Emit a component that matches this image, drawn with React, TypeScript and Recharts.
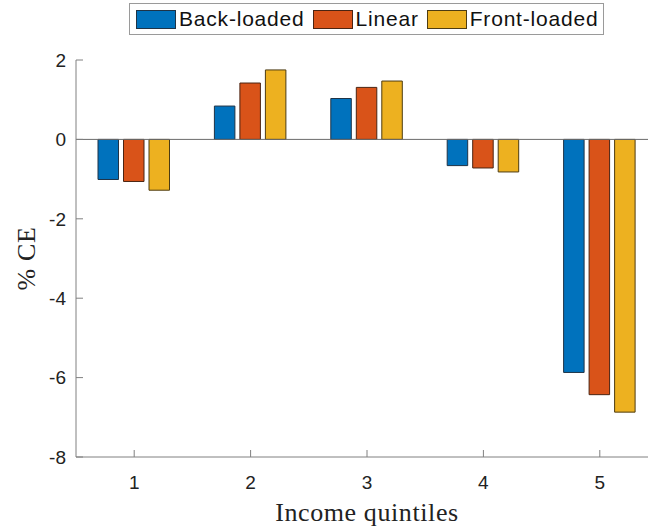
import React from 'react';
import { BarChart, Bar, XAxis, YAxis, ReferenceLine, Legend } from 'recharts';

const quintiles = ['1', '2', '3', '4', '5'];
const backLoaded = [-1.01, 0.84, 1.03, -0.66, -5.87];
const linear = [-1.06, 1.42, 1.31, -0.72, -6.43];
const frontLoaded = [-1.28, 1.75, 1.47, -0.82, -6.87];
const yTicks = [-8, -6, -4, -2, 0, 2];

const series = [
  { key: 'back', name: 'Back-loaded', color: '#0072BD', edge: '#1f3346' },
  { key: 'linear', name: 'Linear', color: '#D95319', edge: '#4a2412' },
  { key: 'front', name: 'Front-loaded', color: '#EDB120', edge: '#4d3c12' }
];

const data = quintiles.map((q, i) => ({
  q,
  back: backLoaded[i],
  linear: linear[i],
  front: frontLoaded[i]
}));

const axisColor = '#808080';
const sans = '"Liberation Sans", Arial, sans-serif';
const serif = '"Liberation Serif", "Times New Roman", serif';

function LegendBox() {
  return (
    <div
      style={{
        display: 'flex',
        alignItems: 'center',
        boxSizing: 'border-box',
        height: 32,
        border: '1px solid #9a9a9a',
        background: '#fff',
        padding: '0 5px 0 6px',
        fontFamily: sans,
        fontSize: 21,
        letterSpacing: 0.8,
        color: '#111',
        whiteSpace: 'nowrap'
      }}
    >
      {series.map((s, i) => (
        <div
          key={s.key}
          style={{ display: 'flex', alignItems: 'center', marginRight: i < series.length - 1 ? 8 : 0 }}
        >
          <span
            style={{
              display: 'inline-block',
              boxSizing: 'border-box',
              width: 40,
              height: 19,
              background: s.color,
              border: `1px solid ${s.edge}`,
              marginRight: 3
            }}
          />
          <span>{s.name}</span>
        </div>
      ))}
    </div>
  );
}

export default function App() {
  return (
    <div
      style={{
        position: 'absolute',
        left: 0,
        top: 0,
        width: 648,
        height: 527,
        overflow: 'hidden',
        background: '#fff'
      }}
    >
      <BarChart
        width={700}
        height={527}
        data={data}
        margin={{ top: 60, right: 42, bottom: 30, left: 16 }}
        barSize={20.5}
        barGap={5}
      >
        <XAxis
          dataKey="q"
          xAxisId="top"
          orientation="top"
          height={0}
          tick={false}
          tickSize={-7}
          stroke={axisColor}
        />
        <XAxis
          dataKey="q"
          height={40}
          tickSize={-7}
          tickMargin={26}
          stroke={axisColor}
          tick={{ fill: '#222', fontSize: 19, fontFamily: sans }}
          label={{
            value: 'Income quintiles',
            position: 'insideBottom',
            offset: -24,
            fill: '#222',
            fontSize: 26,
            fontFamily: serif,
            style: { letterSpacing: 0.6 }
          }}
        />
        <YAxis
          width={60}
          domain={[-8, 2]}
          ticks={yTicks}
          interval={0}
          tickSize={-7}
          tickMargin={17}
          stroke={axisColor}
          tick={{ fill: '#222', fontSize: 19, fontFamily: sans }}
          label={{
            value: '% CE',
            angle: -90,
            position: 'insideLeft',
            offset: 10,
            fill: '#222',
            fontSize: 26,
            fontFamily: serif,
            style: { textAnchor: 'middle', letterSpacing: 0.6 }
          }}
        />
        <Legend
          layout="horizontal"
          verticalAlign="middle"
          align="center"
          wrapperStyle={{ top: 3, left: 129, width: 'auto' }}
          content={() => <LegendBox />}
        />
        <ReferenceLine y={0} stroke="#6b6b6b" strokeWidth={1} />
        {series.map((s) => (
          <Bar
            key={s.key}
            dataKey={s.key}
            name={s.name}
            fill={s.color}
            stroke={s.edge}
            strokeWidth={1}
            isAnimationActive={false}
          />
        ))}
      </BarChart>
    </div>
  );
}
